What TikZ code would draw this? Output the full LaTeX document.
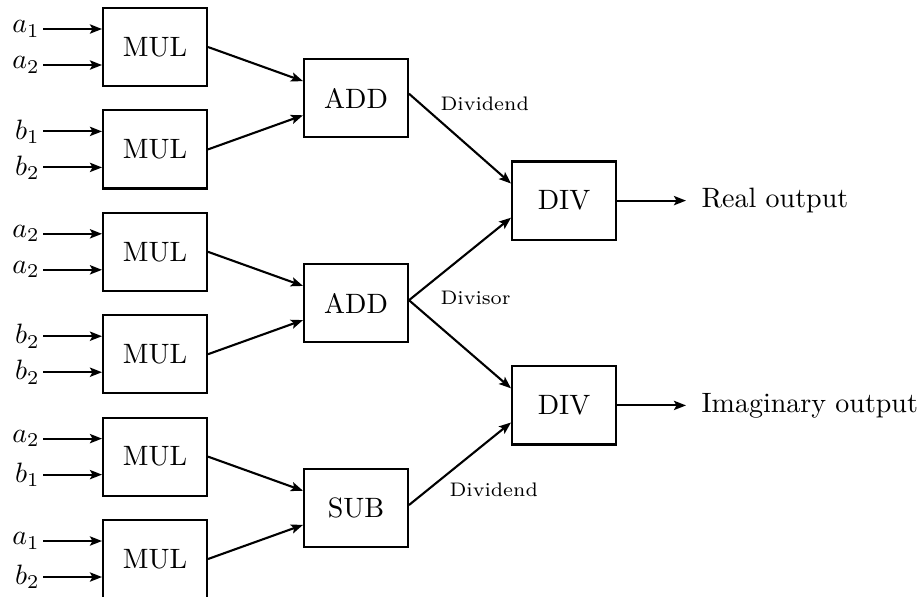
\documentclass[tikz,border=0pt]{standalone}
\usetikzlibrary{arrows.meta}
\begin{document}
\begin{tikzpicture}[x=0.3571pt,y=-0.3571pt,
  unit/.style={draw, line width=0.75pt, minimum width=37.1pt, minimum height=27.9pt, inner sep=0pt},
  wire/.style={line width=0.75pt, -{Stealth[length=4.3pt,width=3.3pt,inset=0.9pt]}},
  inp/.style={anchor=east, inner sep=1pt},
  tag/.style={font=\scriptsize, anchor=west, inner sep=0pt},
  outtext/.style={anchor=west, inner sep=0pt}]
\useasboundingbox (0,0) rectangle (923,596);

% multiplier column
\node[unit] (m1) at (155,47)    {MUL};
\node[unit] (m2) at (155,149.4) {MUL};
\node[unit] (m3) at (155,251.8) {MUL};
\node[unit] (m4) at (155,354.2) {MUL};
\node[unit] (m5) at (155,456.6) {MUL};
\node[unit] (m6) at (155,559)   {MUL};

% adder / subtractor column
\node[unit] (s1) at (356,98.2)  {ADD};
\node[unit] (s2) at (356,303)   {ADD};
\node[unit] (s3) at (356,507.8) {SUB};

% divider column
\node[unit] (d1) at (564,200.6) {DIV};
\node[unit] (d2) at (564,405.4) {DIV};

% operand inputs
\node[inp] (i1a) at (43,29)    {$a_1$};
\node[inp] (i1b) at (43,65)    {$a_2$};
\node[inp] (i2a) at (43,131.4) {$b_1$};
\node[inp] (i2b) at (43,167.4) {$b_2$};
\node[inp] (i3a) at (43,233.8) {$a_2$};
\node[inp] (i3b) at (43,269.8) {$a_2$};
\node[inp] (i4a) at (43,336.2) {$b_2$};
\node[inp] (i4b) at (43,372.2) {$b_2$};
\node[inp] (i5a) at (43,438.6) {$a_2$};
\node[inp] (i5b) at (43,474.6) {$b_1$};
\node[inp] (i6a) at (43,541)   {$a_1$};
\node[inp] (i6b) at (43,577)   {$b_2$};

\foreach \k in {1,...,6}{
  \draw[wire] (i\k a.east) -- (i\k a.east -| m\k.west);
  \draw[wire] (i\k b.east) -- (i\k b.east -| m\k.west);
}

% products into the adders
\draw[wire] (m1.east) -- ([yshift=6.1pt]s1.west);
\draw[wire] (m2.east) -- ([yshift=-6.1pt]s1.west);
\draw[wire] (m3.east) -- ([yshift=6.1pt]s2.west);
\draw[wire] (m4.east) -- ([yshift=-6.1pt]s2.west);
\draw[wire] (m5.east) -- ([yshift=6.1pt]s3.west);
\draw[wire] (m6.east) -- ([yshift=-6.1pt]s3.west);

% sums into the dividers
\draw[wire] ([yshift=1.6pt]s1.east) -- ([yshift=6.1pt]d1.west);
\draw[wire] ([yshift=1pt]s2.east) -- ([yshift=-6.1pt]d1.west);
\draw[wire] ([yshift=1pt]s2.east) -- ([yshift=6.1pt]d2.west);
\draw[wire] ([yshift=1pt]s3.east) -- ([yshift=-6.1pt]d2.west);

\node[tag] (l1) at (440,104) {Dividend};
\node[tag] (l2) at (440,298) {Divisor};
\node[tag] (l3) at (449,490) {Dividend};

% results
\coordinate (o1) at (686,200.6);
\coordinate (o2) at (686,405.4);
\draw[wire] (d1.east) -- (o1);
\draw[wire] (d2.east) -- (o2);
\node[outtext] (t1) at (701,200.6) {Real output};
\node[outtext] (t2) at (701,405.4) {Imaginary output};
\end{tikzpicture}
\end{document}
